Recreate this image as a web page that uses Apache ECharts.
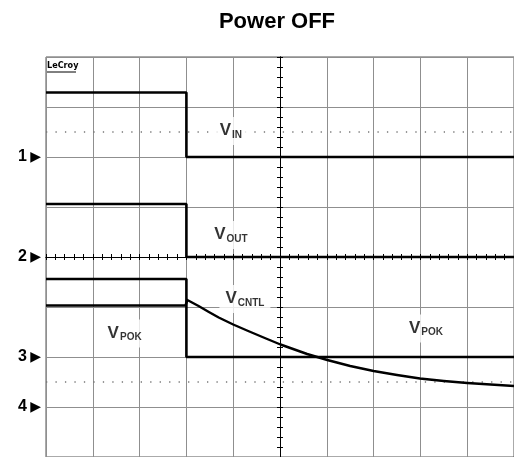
<!DOCTYPE html>
<html>
<head>
<meta charset="utf-8">
<script src="https://cdn.jsdelivr.net/npm/echarts@6/dist/echarts.min.js"></script>
<style>
  html, body { margin: 0; padding: 0; background: #fff; }
  #chart { width: 514px; height: 457px; }
</style>
</head>
<body>
<div id="chart"></div>
<script>
// screen is 10 x 8 divisions, 0 at the centre graticule
var xMin = -5, xMax = 5
var yMin = -4, yMax = 4

// channel ground markers (divisions)
var channelNames = ['1', '2', '3', '4']
var channelLevels = [2, 0, -2, -3]

// cursor levels (dotted)
var cursorLevels = [2.5, -2.5]

// step traces: [time, level], drawn with step 'end'
var vinTrace = [[-5, 3.29], [-2, 2.0], [5, 2.0]]
var voutTrace = [[-5, 1.06], [-2, 0], [5, 0]]
var vpokTrace = [[-5, -0.44], [-2, -2.0], [5, -2.0]]

// V_CNTL decay
var vcntlX = [-5, -2.02, -1.98, -1.74, -1.52, -1.31, -1.0, -0.68, -0.3, 0.01, 0.58, 1.01, 1.5, 2.0, 2.5, 2.99, 3.5, 4.0, 5.0]
var vcntlY = [-0.97, -0.97, -0.86, -0.98, -1.10, -1.21, -1.35, -1.48, -1.63, -1.75, -1.94, -2.06, -2.18, -2.28, -2.36, -2.43, -2.48, -2.52, -2.58]

// trace labels
var labelNames = ['IN', 'OUT', 'CNTL', 'POK', 'POK']

var chart = echarts.init(document.getElementById('chart'))

function zip(xs, ys) {
    var out = []
    for (var i in xs) {
        out.push([xs[i], ys[i]])
    }
    return out
}

var tickStyle = { color: '#000', width: 1 }
var gridColor = '#8f8f8f'

function centreAxis(pos, withSplit) {
    var vertical = pos == 'left' || pos == 'right'
    return {
        type: 'value', min: vertical ? yMin : xMin, max: vertical ? yMax : xMax,
        interval: 1, position: pos,
        axisLine: { show: true, onZero: true, onZeroAxisIndex: 0, lineStyle: { color: '#000', width: 1 } },
        axisTick: { show: true, length: 3, lineStyle: tickStyle },
        minorTick: { show: true, splitNumber: 5, length: 3, lineStyle: tickStyle },
        axisLabel: { show: false },
        splitLine: { show: withSplit, lineStyle: { color: gridColor, width: 1 } }
    }
}

var markerAxis = {
    type: 'value', min: yMin, max: yMax, interval: 1, position: 'left',
    axisLine: { show: false, onZero: false },
    axisTick: { show: false },
    splitLine: { show: false },
    axisLabel: {
        show: true, margin: 5,
        formatter: function (v) {
            var i = channelLevels.indexOf(v)
            if (i < 0) return ''
            return '{n|' + channelNames[i] + '} {t|▶}'
        },
        rich: {
            n: { fontSize: 16, fontWeight: 'bold', fontFamily: 'Liberation Sans', color: '#000' },
            t: { fontSize: 14, fontFamily: 'DejaVu Sans', color: '#000' }
        }
    }
}

var series = []

cursorLevels.forEach(function (lv) {
    series.push({
        type: 'line', data: [[xMin, lv], [xMax, lv]], showSymbol: false, silent: true, z: 1,
        lineStyle: { color: '#777', width: 1.3, type: [1.3, 8.17] }
    })
})

var traceStyle = { color: '#000', width: 2.6 }
;[vinTrace, voutTrace, vpokTrace].forEach(function (tr) {
    series.push({ type: 'line', step: 'end', data: tr, showSymbol: false, lineStyle: traceStyle, z: 3 })
})
series.push({
    type: 'line', data: zip(vcntlX, vcntlY), showSymbol: false,
    lineStyle: { color: '#000', width: 2.4, join: 'round' }, z: 3
})

// labels as a scatter of empty symbols
var labelSpots = [[-1.05, 2.52], [-1.05, 0.44], [-0.75, -0.84], [-3.32, -1.53], [3.12, -1.43]]
series.push({
    type: 'scatter', symbolSize: 0, z: 4, silent: true,
    data: labelSpots.map(function (p, i) { return { value: p, name: labelNames[i] } }),
    label: {
        show: true, position: 'inside',
        formatter: function (p) { return '{v|V}{s|' + p.name + '}' },
        backgroundColor: '#fff', padding: [5, 6, 3, 6],
        rich: {
            v: { fontSize: 17, fontWeight: 'bold', fontFamily: 'Liberation Sans', color: '#000', lineHeight: 20, verticalAlign: 'top' },
            s: { fontSize: 10, fontWeight: 'bold', fontFamily: 'Liberation Sans', color: '#000', lineHeight: 20, verticalAlign: 'top', padding: [8, 0, 0, 1] }
        }
    }
})

option = {
    animation: false,
    backgroundColor: '#fff',
    title: {
        text: 'Power OFF', left: 272, top: 6, textAlign: 'center',
        textStyle: { fontSize: 22, fontWeight: 'bold', fontFamily: 'Liberation Sans', color: '#000' }
    },
    grid: { left: 46, top: 57, right: -5, bottom: -2, show: true, borderColor: '#555', borderWidth: 1 },
    xAxis: [centreAxis('bottom', true), centreAxis('top', false)],
    yAxis: [centreAxis('left', true), centreAxis('right', false), markerAxis],
    graphic: [
        { type: 'text', left: 47, top: 61, style: { text: 'LeCroy', fontSize: 9, fontWeight: 'bold', fontFamily: 'DejaVu Sans Condensed', fill: '#000' } },
        { type: 'line', shape: { x1: 47, y1: 72, x2: 76, y2: 72 }, style: { stroke: '#000', lineWidth: 1 } }
    ],
    series: series
}
chart.setOption(option)
</script>
</body>
</html>
